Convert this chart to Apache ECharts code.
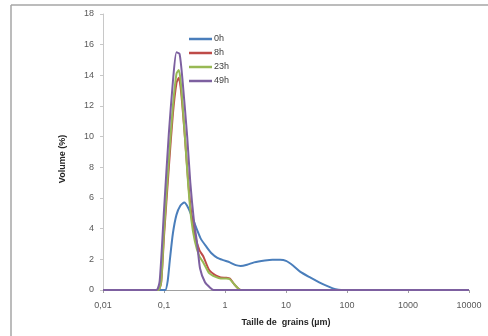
<!DOCTYPE html>
<html>
<head>
<meta charset="utf-8">
<script src="https://cdn.jsdelivr.net/npm/echarts@6/dist/echarts.min.js"></script>
<style>
html,body{margin:0;padding:0;background:#fff;}
#chart{width:488px;height:336px;}
</style>
</head>
<body>
<div id="chart"></div>
<script>
// Series names
var seriesNames = ['0h', '8h', '23h', '49h'];
// Grain size (µm) / volume (%) pairs
var size0h = [0.01, 0.09, 0.105, 0.115, 0.125, 0.14, 0.16, 0.185, 0.215, 0.25, 0.3, 0.35, 0.4, 0.5, 0.6, 0.75, 0.93, 1.2, 1.5, 1.8, 2.3, 3, 4.5, 6, 8, 10, 13, 17, 24, 35, 50, 65, 80, 10000];
var vol0h  = [0, 0, 0, 0.6, 2.0, 3.7, 4.9, 5.5, 5.7, 5.35, 4.6, 3.9, 3.35, 2.8, 2.4, 2.1, 1.95, 1.8, 1.62, 1.57, 1.65, 1.8, 1.92, 1.97, 1.97, 1.9, 1.6, 1.2, 0.85, 0.5, 0.22, 0.05, 0, 0];

var size8h = [0.01, 0.08, 0.09, 0.1, 0.12, 0.14, 0.16, 0.175, 0.19, 0.22, 0.25, 0.28, 0.32, 0.38, 0.44, 0.55, 0.7, 0.85, 1.05, 1.2, 1.4, 1.6, 1.8, 10000];
var vol8h  = [0, 0, 0.5, 3.5, 8, 11.5, 13.5, 13.85, 13, 10, 7, 5, 3.6, 2.6, 2.2, 1.3, 0.95, 0.82, 0.8, 0.75, 0.4, 0.15, 0, 0];

var size23h = [0.01, 0.08, 0.09, 0.1, 0.12, 0.14, 0.16, 0.175, 0.19, 0.22, 0.25, 0.28, 0.32, 0.38, 0.44, 0.55, 0.7, 0.85, 1.05, 1.2, 1.4, 1.6, 1.8, 10000];
var vol23h  = [0, 0, 0.6, 3.8, 8.5, 12, 14.1, 14.35, 13.4, 10, 6.8, 4.6, 3.2, 2.2, 1.8, 1.1, 0.85, 0.75, 0.75, 0.7, 0.4, 0.15, 0, 0];

var size49h = [0.01, 0.075, 0.085, 0.1, 0.12, 0.14, 0.16, 0.18, 0.2, 0.24, 0.27, 0.31, 0.35, 0.39, 0.47, 0.57, 0.65, 10000];
var vol49h  = [0, 0, 0.6, 5.2, 10.2, 13.6, 15.5, 15.4, 13.8, 10, 7, 4.5, 3, 1.4, 0.5, 0.15, 0, 0];

// Tick labels
var xTickLabels = ['0,01', '0,1', '1', '10', '100', '1000', '10000'];
var yTicks = [0, 2, 4, 6, 8, 10, 12, 14, 16, 18];

var colors = ['#4a7ebb', '#be4b48', '#98b954', '#7d60a0'];

function pairs(xs, ys) {
  return xs.map(function (x, i) { return [x, ys[i]]; });
}
var allData = [pairs(size0h, vol0h), pairs(size8h, vol8h), pairs(size23h, vol23h), pairs(size49h, vol49h)];

var chart = echarts.init(document.getElementById('chart'), null, {renderer: 'canvas'});
var font = '"Liberation Sans", Arial, sans-serif';

chart.setOption({
  animation: false,
  backgroundColor: '#ffffff',
  color: colors,
  grid: {left: 103, right: 19, top: 14, bottom: 46, containLabel: false},
  graphic: [
    {type: 'line', shape: {x1: 11, y1: 5, x2: 488, y2: 5}, style: {stroke: '#a6a6a6', lineWidth: 1.5}},
    {type: 'line', shape: {x1: 11, y1: 5, x2: 11, y2: 336}, style: {stroke: '#a6a6a6', lineWidth: 1.5}}
  ],
  legend: {
    orient: 'vertical',
    left: 184,
    top: 29,
    icon: 'rect',
    itemWidth: 23,
    itemHeight: 2.5,
    itemGap: 4,
    data: seriesNames,
    textStyle: {fontFamily: font, fontSize: 9, color: '#404040', lineHeight: 10, padding: [0, 0, 0, -3]}
  },
  xAxis: {
    type: 'log',
    logBase: 10,
    min: 0.01,
    max: 10000,
    name: 'Taille de  grains (µm)',
    nameLocation: 'middle',
    nameGap: 28,
    nameTextStyle: {fontFamily: font, fontSize: 9, fontWeight: 'bold', color: '#262626'},
    axisLine: {lineStyle: {color: '#a0a0a0', width: 1}},
    axisTick: {show: true, length: 3, lineStyle: {color: '#a0a0a0'}},
    minorTick: {show: false},
    splitLine: {show: false},
    axisLabel: {
      fontFamily: font, fontSize: 9, color: '#595959', margin: 11,
      formatter: function (v) {
        var idx = Math.round(Math.log10(v)) + 2;
        return xTickLabels[idx] !== undefined ? xTickLabels[idx] : '';
      }
    }
  },
  yAxis: {
    type: 'value',
    min: 0,
    max: 18,
    interval: 2,
    name: 'Volume (%)',
    nameLocation: 'middle',
    nameGap: 36,
    nameTextStyle: {fontFamily: font, fontSize: 9, fontWeight: 'bold', color: '#262626', padding: [0, 0, 0, -14]},
    axisLine: {show: true, lineStyle: {color: '#c8c8c8', width: 1}},
    axisTick: {show: true, length: 3, lineStyle: {color: '#c8c8c8'}},
    splitLine: {show: false},
    axisLabel: {fontFamily: font, fontSize: 9, color: '#595959', margin: 9}
  },
  series: seriesNames.map(function (name, i) {
    return {
      name: name,
      type: 'line',
      data: allData[i],
      symbol: 'none',
      smooth: 0.2,
      lineStyle: {width: 2, color: colors[i]},
      itemStyle: {color: colors[i]},
      z: 2 + i
    };
  })
});
</script>
</body>
</html>
